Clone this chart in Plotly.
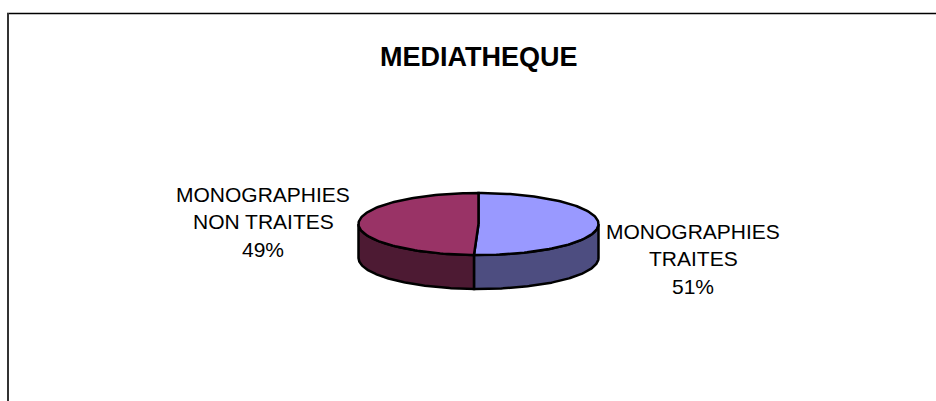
"""3D-look pie, drawn with filled scatter traces since Plotly has no 3D pie."""

import numpy as np
import plotly.graph_objects as go

TITLE = "MEDIATHEQUE"
SLICE_NAMES = ["MONOGRAPHIES<br>TRAITES", "MONOGRAPHIES<br>NON TRAITES"]
SLICE_SHARES = [50.6, 49.4]
TOP_COLORS = ["#9999FF", "#993366"]
SIDE_COLORS = ["#4D4D80", "#4D1A33"]
TEXT = "#000000"
FONT = "Liberation Sans, Arial, sans-serif"

W, H = 936, 401
CX, CY, RX, RY, DEPTH = 478.5, 224, 120, 31, 34


def rim(a, b, n=120):
    # a, b are clockwise angles from 12 o'clock
    t = np.linspace(a, b, n)
    return CX + RX * np.sin(t), CY - RY * np.cos(t)


fig = go.Figure()
outline = dict(color="#000000", width=2.5)

# slice angles come from the shares
cuts = 2 * np.pi * np.cumsum([0] + SLICE_SHARES) / sum(SLICE_SHARES)

# side walls only on the front half of the rim
for i in range(len(SLICE_SHARES)):
    a = max(cuts[i], np.pi / 2)
    b = min(cuts[i + 1], 3 * np.pi / 2)
    if a >= b:
        continue
    x, y = rim(a, b)
    fig.add_trace(go.Scatter(
        x=np.r_[x, x[::-1], x[0]], y=np.r_[y, y[::-1] + DEPTH, y[0]],
        mode="lines", fill="toself", fillcolor=SIDE_COLORS[i], line=outline,
    ))

# top faces
for i in range(len(SLICE_SHARES)):
    x, y = rim(cuts[i], cuts[i + 1])
    fig.add_trace(go.Scatter(
        x=np.r_[CX, x, CX], y=np.r_[CY, y, CY],
        mode="lines", fill="toself", fillcolor=TOP_COLORS[i], line=outline,
    ))

# labels: lines placed one by one to keep the wider line spacing of the original
label_pos = [(693, 231), (263, 194)]
for name, share, (lx, ly) in zip(SLICE_NAMES, SLICE_SHARES, label_pos):
    lines = name.split("<br>") + [f"{round(share)}%"]
    for k, line in enumerate(lines):
        fig.add_annotation(x=lx, y=ly + k * 27.5, xref="x", yref="y", text=line, showarrow=False,
                           font=dict(family=FONT, size=21, color=TEXT))

fig.add_annotation(x=478.5, y=57, xref="x", yref="y", text=f"<b>{TITLE}</b>", showarrow=False,
                   font=dict(family=FONT, size=27, color=TEXT))

# chart frame, cut off by the image on the right and bottom
fig.add_shape(type="line", x0=7, x1=W, y0=13.5, y1=13.5, line=dict(color="#000000", width=1.5))
fig.add_shape(type="line", x0=8, x1=8, y0=13, y1=H, line=dict(color="#333333", width=2))

fig.update_layout(
    width=W, height=H, margin=dict(l=0, r=0, t=0, b=0),
    paper_bgcolor="white", plot_bgcolor="white", showlegend=False,
)
fig.update_xaxes(range=[0, W], visible=False)
fig.update_yaxes(range=[H, 0], visible=False)

# the page's default body margin would shift the whole figure
fig.write_html("out.html", config=dict(displayModeBar=False),
               post_script="document.body.style.margin = '0';")
